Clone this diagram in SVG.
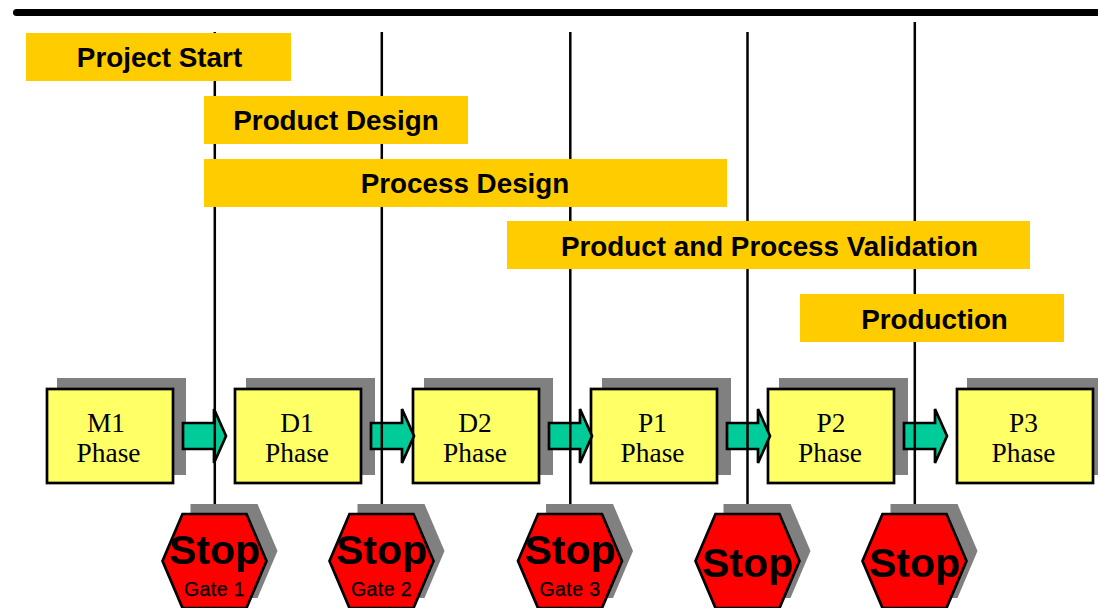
<svg xmlns="http://www.w3.org/2000/svg" xmlns:xlink="http://www.w3.org/1999/xlink" width="1098" height="608" viewBox="0 0 1098 608">
<style>
.bar{fill:#FFCC00}
.bt{font:bold 27.8px "Liberation Sans",Arial,sans-serif;fill:#000;text-anchor:middle}
.shadow{fill:#808080}
.box{fill:#FFFF66;stroke:#000;stroke-width:2.7}
.pt{font:27.4px "Liberation Serif","Times New Roman",serif;fill:#000;text-anchor:middle}
.arrow{fill:#00CC99;stroke:#000;stroke-width:2.7;stroke-linejoin:miter}
.line{stroke:#000;stroke-width:2.5;fill:none}
.hex{fill:#FF0000;stroke:#000;stroke-width:2.7}
.st{font:bold 41px "Liberation Sans",Arial,sans-serif;fill:#000;text-anchor:middle}
.gt{font:19.500px "Liberation Sans",Arial,sans-serif;letter-spacing:.4px;fill:#000;text-anchor:middle;stroke:#000;stroke-width:.25}
</style>
<defs>
<polygon id="hexs" class="shadow" points="-24,-10 43,-10 63,37 43,84 -24,84"/>
<polygon id="hexf" class="hex" points="-32,0 32,0 52,47 32,94 -32,94 -52,47"/>
<polygon id="arr" class="arrow" points="0,14 31,14 31,0 43,27 31,54 31,40 0,40"/>
</defs>
<rect id="top-rule" x="13" y="9" width="1095" height="7" rx="3.5" fill="#000"/>

<g id="phase-m1"><rect class="shadow" x="57" y="378" width="129" height="97"/><rect class="box" x="47" y="389" width="126" height="94"/><text class="pt" x="106" y="432">M1</text><text class="pt" x="108.500" y="462">Phase</text></g>
<g id="phase-d1"><rect class="shadow" x="246" y="378" width="129" height="97"/><rect class="box" x="235" y="389" width="126" height="94"/><text class="pt" x="297" y="432">D1</text><text class="pt" x="297" y="462">Phase</text></g>
<g id="phase-d2"><rect class="shadow" x="424" y="378" width="129" height="97"/><rect class="box" x="413" y="389" width="126" height="94"/><text class="pt" x="475" y="432">D2</text><text class="pt" x="475" y="462">Phase</text></g>
<g id="phase-p1"><rect class="shadow" x="602" y="378" width="129" height="97"/><rect class="box" x="591" y="389" width="126" height="94"/><text class="pt" x="652.500" y="432">P1</text><text class="pt" x="652.500" y="462">Phase</text></g>
<g id="phase-p2"><rect class="shadow" x="779" y="378" width="129" height="97"/><rect class="box" x="768" y="389" width="126" height="94"/><text class="pt" x="831" y="432">P2</text><text class="pt" x="830" y="462">Phase</text></g>
<g id="phase-p3"><rect class="shadow" x="967" y="378" width="140" height="97"/><rect class="box" x="957" y="389" width="136" height="94"/><text class="pt" x="1023.500" y="432">P3</text><text class="pt" x="1023.500" y="462">Phase</text></g>

<g id="connectors">
<use xlink:href="#arr" href="#arr" x="183" y="409"/>
<use xlink:href="#arr" href="#arr" x="371" y="409"/>
<use xlink:href="#arr" href="#arr" x="549" y="409"/>
<use xlink:href="#arr" href="#arr" x="727" y="409"/>
<use xlink:href="#arr" href="#arr" x="904" y="409"/>
<line class="line" x1="214.800" y1="32" x2="214.800" y2="514"/>
<line class="line" x1="381.800" y1="32" x2="381.800" y2="514"/>
<line class="line" x1="570.300" y1="32" x2="570.300" y2="514"/>
<line class="line" x1="747.500" y1="32" x2="747.500" y2="514"/>
<line class="line" x1="914.800" y1="22" x2="914.800" y2="514"/>
</g>

<g id="bar-project-start"><rect class="bar" x="26" y="33" width="265" height="48"/><text class="bt" x="159.500" y="67">Project Start</text></g>
<g id="bar-product-design"><rect class="bar" x="204" y="96" width="264" height="48"/><text class="bt" x="336" y="130">Product Design</text></g>
<g id="bar-process-design"><rect class="bar" x="204" y="159" width="523" height="48"/><text class="bt" x="465" y="193">Process Design</text></g>
<g id="bar-validation"><rect class="bar" x="507" y="221" width="523" height="48"/><text class="bt" x="769.500" y="256">Product and Process Validation</text></g>
<g id="bar-production"><rect class="bar" x="800" y="294" width="264" height="48"/><text class="bt" x="934.500" y="329">Production</text></g>

<g id="stop-1" transform="translate(214.500 514)"><use xlink:href="#hexs" href="#hexs"/><use xlink:href="#hexf" href="#hexf"/><text class="st" y="50">Stop</text><text class="gt" y="82">Gate 1</text></g>
<g id="stop-2" transform="translate(381.500 514)"><use xlink:href="#hexs" href="#hexs"/><use xlink:href="#hexf" href="#hexf"/><text class="st" y="50">Stop</text><text class="gt" y="82">Gate 2</text></g>
<g id="stop-3" transform="translate(570 514)"><use xlink:href="#hexs" href="#hexs"/><use xlink:href="#hexf" href="#hexf"/><text class="st" y="50">Stop</text><text class="gt" y="82">Gate 3</text></g>
<g id="stop-4" transform="translate(747.500 514)"><use xlink:href="#hexs" href="#hexs"/><use xlink:href="#hexf" href="#hexf"/><text class="st" y="63">Stop</text></g>
<g id="stop-5" transform="translate(914.500 514)"><use xlink:href="#hexs" href="#hexs"/><use xlink:href="#hexf" href="#hexf"/><text class="st" y="63">Stop</text></g>
</svg>
